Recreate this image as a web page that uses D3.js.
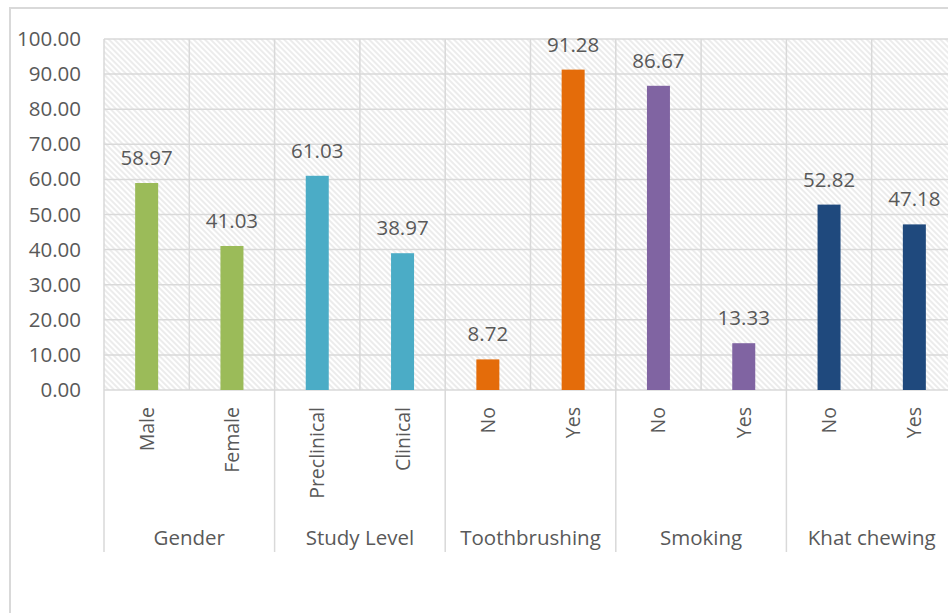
<!DOCTYPE html>
<html><head><meta charset="utf-8">
<script src="https://cdn.jsdelivr.net/npm/d3@7/dist/d3.min.js"></script>
<style>body{margin:0;background:#fff}svg{display:block}text{font-family:"Open Sans",Lato,sans-serif;fill:#595959}</style>
</head><body>
<script>
const groups = ["Gender","Study Level","Toothbrushing","Smoking","Khat chewing"];
const categories = ["Male","Female","Preclinical","Clinical","No","Yes","No","Yes","No","Yes"];
const categoryGroup = [0,0,1,1,2,2,3,3,4,4];
const values = [58.97,41.03,61.03,38.97,8.72,91.28,86.67,13.33,52.82,47.18];
const groupColors = ["#9BBB59","#4BACC6","#E46C0A","#8064A2","#1F497D"];
const yTicks = [0,10,20,30,40,50,60,70,80,90,100];

const W=948,H=613;
const svg=d3.select("body").append("svg").attr("width",W).attr("height",H);
const defs=svg.append("defs");
const pat=defs.append("pattern").attr("id","hatch").attr("patternUnits","userSpaceOnUse")
  .attr("width",4).attr("height",4).attr("patternTransform","rotate(-45)");
pat.append("rect").attr("width",4).attr("height",4).attr("fill","#fff");
pat.append("line").attr("x1",1).attr("x2",1).attr("y1",0).attr("y2",4).attr("stroke","#e2e2e2").attr("stroke-width",1.3);

// outer border
svg.append("rect").attr("x",10).attr("y",8).attr("width",1000).attr("height",700)
  .attr("fill","none").attr("stroke","#d9d9d9").attr("stroke-width",2);

const pLeft=104, pTop=39, pBottom=390;
const slot=85.3;
const x=d3.scaleBand().domain(d3.range(categories.length)).range([pLeft,pLeft+slot*categories.length]).paddingInner(0).paddingOuter(0);
const y=d3.scaleLinear().domain([0,100]).range([pBottom,pTop]);
const xEnd=x.range()[1];
const edge=i=>i>=categories.length?xEnd:x(i);

const g=svg.append("g");
g.append("rect").attr("x",pLeft).attr("y",pTop).attr("width",xEnd-pLeft).attr("height",pBottom-pTop).attr("fill","url(#hatch)");

// horizontal gridlines
g.selectAll(".hg").data(yTicks).join("line")
  .attr("x1",pLeft).attr("x2",xEnd).attr("y1",d=>y(d)).attr("y2",d=>y(d))
  .attr("stroke","#d9d9d9").attr("stroke-width",1.5);
// vertical gridlines
g.selectAll(".vg").data(d3.range(categories.length+1)).join("line")
  .attr("x1",edge).attr("x2",edge)
  .attr("y1",pTop).attr("y2",pBottom).attr("stroke","#d9d9d9").attr("stroke-width",1.5);
// group separators below axis
const groupStarts=groups.map((gr,gi)=>categoryGroup.indexOf(gi));
g.selectAll(".gs").data(groupStarts.concat([categories.length])).join("line")
  .attr("x1",edge).attr("x2",edge)
  .attr("y1",pBottom).attr("y2",552).attr("stroke","#d9d9d9").attr("stroke-width",1.5);

// y axis labels
const ya=d3.axisLeft(y).tickValues(yTicks).tickFormat(d3.format(".2f")).tickSize(0).tickPadding(0);
const yg=svg.append("g").attr("transform","translate(81,0)").call(ya);
yg.select(".domain").remove();
yg.selectAll("text").attr("font-size",20.5).attr("fill","#595959").attr("font-family","Open Sans");

// bars
const bw=23;
g.selectAll(".bar").data(values).join("rect")
  .attr("x",(d,i)=>x(i)+x.bandwidth()/2-bw/2).attr("width",bw)
  .attr("y",d=>y(d)).attr("height",d=>pBottom-y(d))
  .attr("fill",(d,i)=>groupColors[categoryGroup[i]]);
// data labels
g.selectAll(".lbl").data(values).join("text")
  .attr("x",(d,i)=>x(i)+x.bandwidth()/2).attr("y",d=>y(d)-18)
  .attr("text-anchor","middle").attr("font-size",20.5).text(d=>d3.format(".2f")(d));
// category labels
g.selectAll(".cat").data(categories).join("text")
  .attr("transform",(d,i)=>`translate(${x(i)+x.bandwidth()/2},407) rotate(-90)`)
  .attr("text-anchor","end").attr("dy","0.36em").attr("font-size",19.5).text(d=>d);
// group labels
g.selectAll(".grp").data(groups).join("text")
  .attr("x",(d,gi)=>{const idx=d3.range(categories.length).filter(i=>categoryGroup[i]===gi);return (x(idx[0])+x(idx[idx.length-1])+x.bandwidth())/2;})
  .attr("y",545).attr("text-anchor","middle").attr("font-size",20.5).text(d=>d);
</script>
</body></html>
